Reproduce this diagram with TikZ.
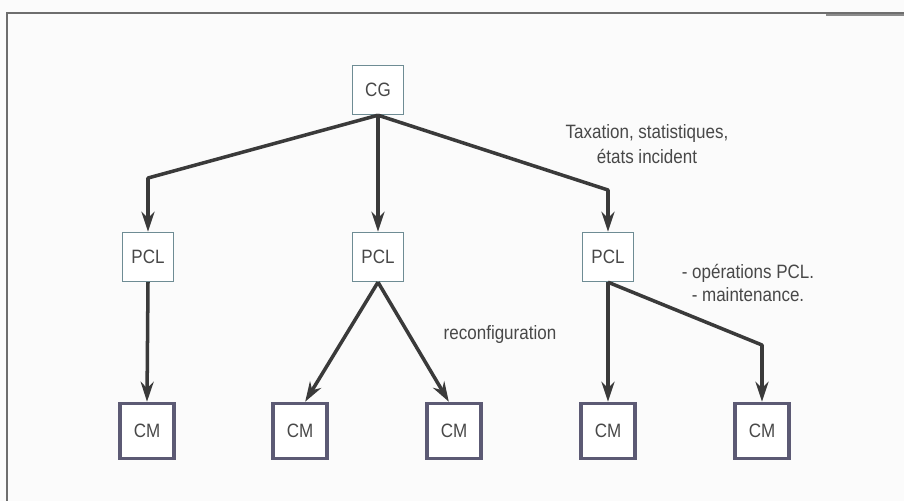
\documentclass[tikz,border=0pt]{standalone}
\usepackage{fontspec}
\setmainfont{Liberation Sans}
\newfontfamily\narrowfont[FakeStretch=0.88]{Liberation Sans}
\usetikzlibrary{arrows.meta}
\definecolor{boxline}{HTML}{6E8C94}
\definecolor{cmline}{HTML}{5C5A74}
\definecolor{wire}{HTML}{3A3A3A}
\definecolor{ink}{HTML}{484848}
\definecolor{framegray}{HTML}{6E6E6E}

\begin{document}
\begin{tikzpicture}[x=0.02cm,y=-0.02cm,>={Stealth[length=4mm,width=2.6mm]},
  font=\narrowfont\fontsize{11}{14.5}\selectfont,
  unit/.style={draw=boxline,line width=0.8pt,fill=white,text=ink,inner sep=0pt,
    minimum width=1.02cm,minimum height=0.98cm},
  cmunit/.style={unit,draw=cmline,line width=2pt,minimum width=1.08cm,minimum height=1.1cm},
  link/.style={->,draw=wire,line width=2pt,line join=round},
  note/.style={text=ink,align=center}]
\useasboundingbox[fill=gray!3] (0,0) rectangle (904,501);
% frame
\draw[framegray,line width=0.8pt] (7,501) -- (7,13) -- (904,13);
\draw[framegray!80,line width=1.6pt] (826,15) -- (904,15);

% boxes
\node[unit] (cg) at (378,90) {CG};
\node[unit] (pcl1) at (148,257) {PCL};
\node[unit] (pcl2) at (378,257) {PCL};
\node[unit] (pcl3) at (608,257) {PCL};
\node[cmunit] (cm1) at (147,431) {CM};
\node[cmunit] (cm2) at (300,431) {CM};
\node[cmunit] (cm3) at (454,431) {CM};
\node[cmunit] (cm4) at (608,431) {CM};
\node[cmunit] (cm5) at (762,431) {CM};

% bends
\coordinate (bendl) at (148,178);
\coordinate (bendr) at (608,190);
\coordinate (bendc) at (762,345);

% links
\draw[link] (cg.south) -- (bendl) -- (pcl1.north);
\draw[link] (cg.south) -- (pcl2.north);
\draw[link] (cg.south) -- (bendr) -- (pcl3.north);
\draw[link] (pcl1.south) -- (cm1.north);
\draw[link] (pcl2.south) -- (cm2.80);
\draw[link] (pcl2.south) -- (cm3.100);
\draw[link] (pcl3.south) -- (cm4.north);
\draw[link] (pcl3.south) -- (bendc) -- (cm5.north);

% labels
\node[note] (tax) at (647,144) {Taxation, statistiques,\\ états incident};
\node[note] (ops) at (748,283) {- opérations PCL.\\[-1.5pt] - maintenance.};
\node[note] (reconf) at (500,334) {reconfiguration};
\end{tikzpicture}
\end{document}
